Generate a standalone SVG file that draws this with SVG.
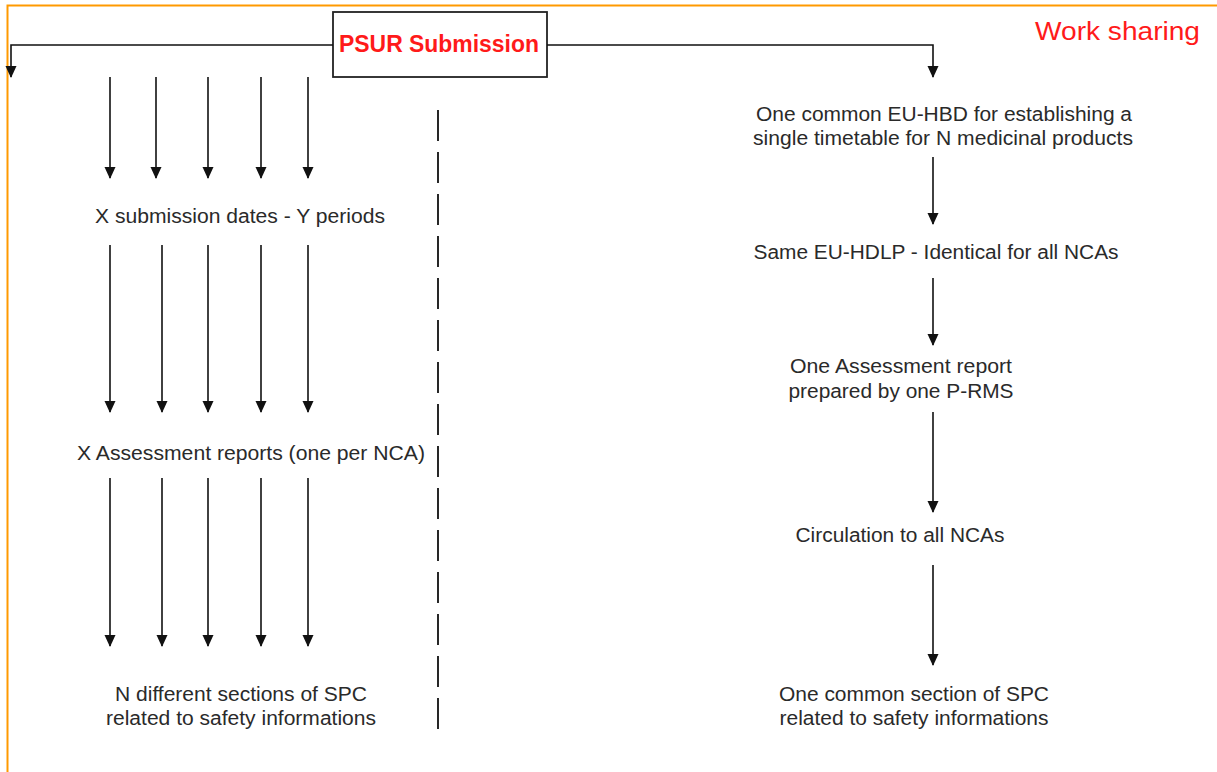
<svg xmlns="http://www.w3.org/2000/svg" width="1217" height="772" viewBox="0 0 1217 772">
<defs>
<marker id="a" markerUnits="userSpaceOnUse" markerWidth="12" markerHeight="12" viewBox="0 0 12 12" refX="11" refY="6" orient="auto">
<path d="M0,0.5 L12,6 L0,11.5 Z" fill="#111"/>
</marker>
</defs>
<style>
.t{font-family:"Liberation Sans",Arial,sans-serif;font-size:19.5px;fill:#2a2a2a;text-anchor:middle}
.ar{stroke:#111;stroke-width:1.6;fill:none;marker-end:url(#a)}
</style>
<rect width="1217" height="772" fill="#fff"/>
<path d="M7.5,772 V5.5 H1217" fill="none" stroke="#ff9a00" stroke-width="2"/>
<g id="work-sharing"><text x="1117.5" y="40" font-family="Liberation Sans,Arial,sans-serif" font-size="25" fill="#ff1a1a" text-anchor="middle" textLength="165" lengthAdjust="spacingAndGlyphs">Work sharing</text></g>
<g id="psur">
<rect x="333" y="12" width="214" height="65" fill="#fff" stroke="#222" stroke-width="1.8"/>
<text x="439" y="52" font-family="Liberation Sans,Arial,sans-serif" font-size="23" font-weight="bold" fill="#ff1a1a" text-anchor="middle" textLength="200" lengthAdjust="spacingAndGlyphs">PSUR Submission</text>
</g>
<g id="connectors">
<path class="ar" d="M333,45 H11 V77"/>
<path class="ar" d="M547,45 H933 V77"/>
<path d="M438,110 V735" stroke="#111" stroke-width="1.8" stroke-dasharray="31,11"/>
<path class="ar" d="M110,77 V178"/>
<path class="ar" d="M156,77 V178"/>
<path class="ar" d="M208,77 V178"/>
<path class="ar" d="M261,77 V178"/>
<path class="ar" d="M308,77 V178"/>
<path class="ar" d="M110,245 V412"/>
<path class="ar" d="M162,245 V412"/>
<path class="ar" d="M208,245 V412"/>
<path class="ar" d="M261,245 V412"/>
<path class="ar" d="M308,245 V412"/>
<path class="ar" d="M110,478 V646"/>
<path class="ar" d="M162,478 V646"/>
<path class="ar" d="M208,478 V646"/>
<path class="ar" d="M261,478 V646"/>
<path class="ar" d="M308,478 V646"/>
<path class="ar" d="M933,157 V224"/>
<path class="ar" d="M933,278 V345"/>
<path class="ar" d="M933,412 V512"/>
<path class="ar" d="M933,565 V665"/>
</g>
<g id="x-submission"><text class="t" x="240" y="223" textLength="290" lengthAdjust="spacingAndGlyphs">X submission dates - Y periods</text></g>
<g id="x-assessment"><text class="t" x="251" y="460" textLength="348" lengthAdjust="spacingAndGlyphs">X Assessment reports (one per NCA)</text></g>
<g id="n-sections"><text class="t" x="241" y="701" textLength="252" lengthAdjust="spacingAndGlyphs">N different sections of SPC</text><text class="t" x="241" y="725" textLength="270" lengthAdjust="spacingAndGlyphs">related to safety informations</text></g>
<g id="eu-hbd"><text class="t" x="944" y="121" textLength="376" lengthAdjust="spacingAndGlyphs">One common EU-HBD for establishing a</text><text class="t" x="943" y="145" textLength="380" lengthAdjust="spacingAndGlyphs">single timetable for N medicinal products</text></g>
<g id="eu-hdlp"><text class="t" x="936" y="259" textLength="365" lengthAdjust="spacingAndGlyphs">Same EU-HDLP - Identical for all NCAs</text></g>
<g id="one-assessment"><text class="t" x="901" y="373" textLength="222" lengthAdjust="spacingAndGlyphs">One Assessment report</text><text class="t" x="901" y="398" textLength="225" lengthAdjust="spacingAndGlyphs">prepared by one P-RMS</text></g>
<g id="circulation"><text class="t" x="900" y="542" textLength="209" lengthAdjust="spacingAndGlyphs">Circulation to all NCAs</text></g>
<g id="one-common"><text class="t" x="914" y="701" textLength="270" lengthAdjust="spacingAndGlyphs">One common section of SPC</text><text class="t" x="914" y="725" textLength="269" lengthAdjust="spacingAndGlyphs">related to safety informations</text></g>
</svg>
